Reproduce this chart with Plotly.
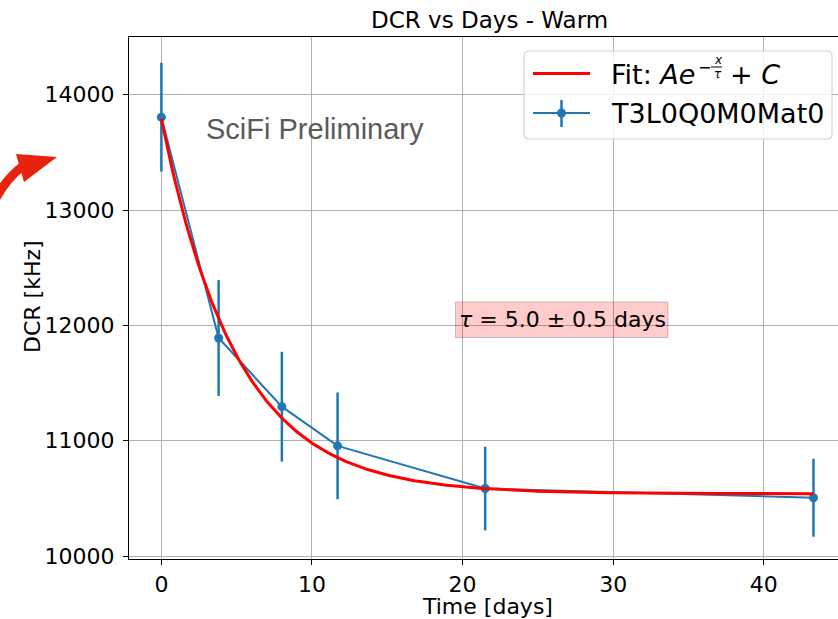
import numpy as np
import plotly.graph_objects as go

# ---- data ----
days = [0.0, 3.8, 8.0, 11.7, 21.5, 43.3]
dcr = [13805, 11890, 11295, 10955, 10585, 10505]
dcr_err = [472, 502, 476, 463, 363, 338]
series_name = "T3L0Q0M0Mat0"
fit_A = 3250.0
fit_tau = 5.0
fit_tau_err = 0.5
fit_C = 10540.0
x_ticks = [0, 10, 20, 30, 40]
y_ticks = [10000, 11000, 12000, 13000, 14000]
y_tick_labels = ["10000", "11000", "12000", "13000", "14000"]

W, H = 838, 619
L, R, T, B = 129, 0, 37, 60
PW, PH = W - L - R, H - T - B

def X(px):
    return (px - L) / PW

def Y(py):
    return (H - B - py) / PH

BLUE = "#1f77b4"
FONT = "DejaVu Sans"

xfit = np.linspace(min(days), max(days), 300)
yfit = fit_A * np.exp(-xfit / fit_tau) + fit_C

fig = go.Figure()
fig.add_trace(go.Scatter(
    x=days, y=dcr, mode="lines+markers", name=series_name,
    line=dict(color=BLUE, width=2), marker=dict(color=BLUE, size=9),
    error_y=dict(type="data", array=dcr_err, visible=True, color=BLUE, thickness=2.5, width=0),
    showlegend=False,
))
fig.add_trace(go.Scatter(
    x=xfit, y=yfit, mode="lines", name="Fit",
    line=dict(color="#ff0000", width=3), showlegend=False,
))

shapes = []
annotations = []

# legend box (rounded)
x0, x1, y0, y1, r = 524, 832, 51, 139, 5
path = (f"M {X(x0+r)},{Y(y0)} L {X(x1-r)},{Y(y0)} Q {X(x1)},{Y(y0)} {X(x1)},{Y(y0+r)} "
        f"L {X(x1)},{Y(y1-r)} Q {X(x1)},{Y(y1)} {X(x1-r)},{Y(y1)} "
        f"L {X(x0+r)},{Y(y1)} Q {X(x0)},{Y(y1)} {X(x0)},{Y(y1-r)} "
        f"L {X(x0)},{Y(y0+r)} Q {X(x0)},{Y(y0)} {X(x0+r)},{Y(y0)} Z")
shapes.append(dict(type="path", xref="paper", yref="paper", path=path,
                   fillcolor="rgba(255,255,255,0.8)", line=dict(color="#d4d4d4", width=1.2), layer="above"))
# legend symbols
shapes.append(dict(type="line", xref="paper", yref="paper", x0=X(533), x1=X(590), y0=Y(73.5), y1=Y(73.5),
                   line=dict(color="#ff0000", width=3), layer="above"))
shapes.append(dict(type="line", xref="paper", yref="paper", x0=X(533), x1=X(590), y0=Y(113), y1=Y(113),
                   line=dict(color=BLUE, width=2), layer="above"))
shapes.append(dict(type="line", xref="paper", yref="paper", x0=X(561.5), x1=X(561.5), y0=Y(100), y1=Y(127),
                   line=dict(color=BLUE, width=2.5), layer="above"))
shapes.append(dict(type="circle", xref="paper", yref="paper", x0=X(557), x1=X(566), y0=Y(108.5), y1=Y(117.5),
                   fillcolor=BLUE, line=dict(color=BLUE, width=0), layer="above"))
# fraction bar
shapes.append(dict(type="line", xref="paper", yref="paper", x0=X(711), x1=X(722), y0=Y(67), y1=Y(67),
                   line=dict(color="black", width=1), layer="above"))

# tau box
shapes.append(dict(type="rect", xref="paper", yref="paper", x0=X(455.5), x1=X(668), y0=Y(302), y1=Y(337.5),
                   fillcolor="rgba(255,0,0,0.2)", line=dict(color="rgba(0,0,0,0.2)", width=1), layer="above"))

# red arrow (decoration at left)
shaft = f"M {X(-4)},{Y(198)} Q {X(7)},{Y(178)} {X(23)},{Y(166)}"
shapes.append(dict(type="path", xref="paper", yref="paper", path=shaft,
                   line=dict(color="#e8230d", width=9)))
head = f"M {X(16)},{Y(154)} L {X(57)},{Y(157)} L {X(24)},{Y(182)} Z"
shapes.append(dict(type="path", xref="paper", yref="paper", path=head,
                   fillcolor="#e8230d", line=dict(color="#e8230d", width=0)))

def ann(text, px, py, size, xanchor="center", color="black", family=FONT, angle=0):
    annotations.append(dict(text=text, x=X(px), y=Y(py), xref="paper", yref="paper",
                            xanchor=xanchor, yanchor="middle", showarrow=False,
                            textangle=angle, font=dict(size=size, color=color, family=family)))

# title and axis titles
ann("DCR vs Days - Warm", 489, 20, 23)
ann("Time [days]", 487.5, 607, 22)
ann("DCR [kHz]", 32, 297, 22, angle=-90)

# legend texts
ann("Fit: <i>Ae</i>", 609, 74, 27, xanchor="left")
ann("−", 696, 67, 16, xanchor="left")
ann("<i>x</i>", 712, 60, 12, xanchor="left")
ann("<i>τ</i>", 712, 74, 12, xanchor="left")
ann("+ <i>C</i>", 728, 74, 27, xanchor="left")
ann(series_name, 609, 113, 27, xanchor="left")

# tau annotation
ann(f"<i>τ</i> = {fit_tau:.1f} ± {fit_tau_err:.1f} days", 562, 319.5, 22)

# preliminary watermark
ann("SciFi Preliminary", 315, 129, 29, color="#5a5a5a", family="Liberation Sans")

fig.update_layout(
    width=W, height=H,
    margin=dict(l=L, r=R, t=T, b=B, pad=0),
    paper_bgcolor="white", plot_bgcolor="white",
    font=dict(family=FONT, size=22, color="black"),
    shapes=shapes, annotations=annotations,
    showlegend=False,
)
fig.update_xaxes(
    range=[-2.15, (W - L) / 15.06 - 2.15], tickvals=x_ticks, ticks="outside", ticklen=5,
    tickwidth=1.3, tickcolor="black", showline=True, linecolor="black", linewidth=1.3,
    mirror=True, showgrid=True, gridcolor="#b0b0b0", gridwidth=1, zeroline=False,
    tickfont=dict(size=22, family=FONT), ticklabelstandoff=0,
)
fig.update_yaxes(
    range=[9974, 14500], tickvals=y_ticks, ticktext=y_tick_labels, ticks="outside", ticklen=5,
    tickwidth=1.3, tickcolor="black", showline=True, linecolor="black", linewidth=1.3,
    mirror=False, showgrid=True, gridcolor="#b0b0b0", gridwidth=1, zeroline=False,
    tickfont=dict(size=22, family=FONT), ticklabelstandoff=4,
)

fig.write_html("out.html")
